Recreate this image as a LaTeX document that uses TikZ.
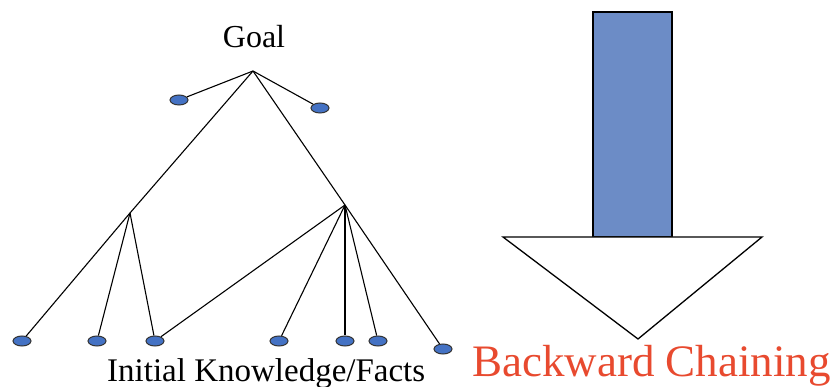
\documentclass[tikz,border=0pt]{standalone}
\usepackage{fontspec}
\setmainfont{Liberation Serif}
\usetikzlibrary{shapes.geometric}
\definecolor{factblue}{RGB}{68,114,196}
\definecolor{stemblue}{RGB}{108,140,198}
\definecolor{chainred}{RGB}{232,74,47}

\begin{document}
\begin{tikzpicture}[
  x=1pt, y=-1pt,
  fact/.style={draw=black!80, fill=factblue, ellipse, minimum width=18pt, minimum height=10pt, inner sep=0pt, line width=1pt},
  edge/.style={line width=1.1pt},
  label/.style={font=\fontsize{32}{36}\selectfont, inner sep=0pt},
  arrowpart/.style={draw=black, line width=1.3pt}
]
\useasboundingbox (0,0) rectangle (830,387);

\node[label, anchor=base] (goal) at (254,48) {Goal};
\node[label, anchor=base west, font=\fontsize{33}{38}\selectfont] (facts) at (107,381) {Initial Knowledge/Facts};
\node[label, anchor=base west, font=\fontsize{45}{50}\selectfont, text=chainred] (chain) at (472,376) {Backward Chaining};

\coordinate (apex) at (253,71);
\coordinate (jleft) at (130,213);
\coordinate (jright) at (345,205);

\node[fact] (t1) at (179,100) {};
\node[fact] (t2) at (320,108) {};

\node[fact] (f1) at (22,341) {};
\node[fact] (f2) at (97,341) {};
\node[fact] (f3) at (155,341) {};
\node[fact] (f4) at (279,341) {};
\node[fact] (f5) at (345,341) {};
\node[fact] (f6) at (378,341) {};
\node[fact] (f7) at (443,349) {};

\draw[edge] (apex) -- (t1);
\draw[edge] (apex) -- (t2);
\draw[edge] (apex) -- (jleft);
\draw[edge] (apex) -- (jright);

\draw[edge] (jleft) -- (f1);
\draw[edge] (jleft) -- (f2);
\draw[edge] (jleft) -- (f3);

\draw[edge] (jright) -- (f3);
\draw[edge] (jright) -- (f4);
\draw[edge] (jright) -- (f5);
\draw[edge] (jright) -- (f6);
\draw[edge] (jright) -- (f7);

\filldraw[arrowpart, fill=stemblue] (593,12) rectangle (672,237);
\filldraw[arrowpart, fill=white, line join=miter] (503,237) -- (762,237) -- (638,339) -- cycle;
\end{tikzpicture}
\end{document}
